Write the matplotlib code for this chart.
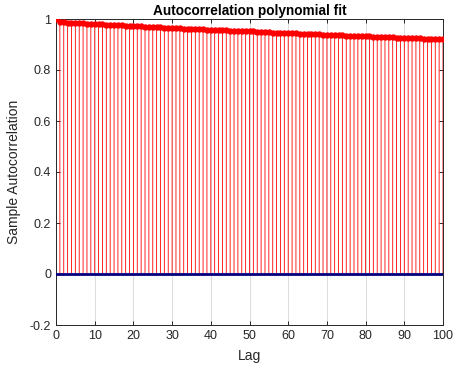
import matplotlib
matplotlib.use("Agg")
import matplotlib.pyplot as plt
import numpy as np

lags = list(range(0, 101))
acf = [1.000,
       0.988, 0.987, 0.986, 0.986, 0.985, 0.984, 0.983, 0.982, 0.982, 0.981,
       0.980, 0.979, 0.978, 0.977, 0.977, 0.976, 0.975, 0.974, 0.973, 0.973,
       0.972, 0.971, 0.970, 0.969, 0.968, 0.968, 0.967, 0.966, 0.965, 0.964,
       0.964, 0.963, 0.962, 0.961, 0.961, 0.960, 0.959, 0.959, 0.958, 0.958,
       0.957, 0.956, 0.956, 0.955, 0.954, 0.954, 0.953, 0.953, 0.952, 0.951,
       0.951, 0.950, 0.949, 0.949, 0.948, 0.947, 0.947, 0.946, 0.946, 0.945,
       0.944, 0.944, 0.943, 0.942, 0.942, 0.941, 0.940, 0.940, 0.939, 0.939,
       0.938, 0.937, 0.937, 0.936, 0.935, 0.935, 0.934, 0.934, 0.933, 0.932,
       0.932, 0.931, 0.930, 0.930, 0.929, 0.929, 0.928, 0.927, 0.927, 0.926,
       0.925, 0.925, 0.924, 0.924, 0.923, 0.922, 0.922, 0.921, 0.920, 0.920]
xticks = [0, 10, 20, 30, 40, 50, 60, 70, 80, 90, 100]
yticks = [-0.2, 0, 0.2, 0.4, 0.6, 0.8, 1]
ytick_labels = ["-0.2", "0", "0.2", "0.4", "0.6", "0.8", "1"]
title = "Autocorrelation polynomial fit"
xlabel = "Lag"
ylabel = "Sample Autocorrelation"

plt.rcParams['font.family'] = ['Liberation Sans', 'DejaVu Sans']

fig = plt.figure(figsize=(4.55, 3.69), dpi=100)
ax = fig.add_axes([56/455, 44/369, 387/455, 306/369])

ax.set_xlim(0, 100)
ax.set_ylim(-0.2, 1)
ax.set_xticks(xticks)
ax.set_yticks(yticks)
ax.set_yticklabels(ytick_labels)

ax.xaxis.grid(True, color='#dcdcdc', linewidth=0.7, zorder=0)
ax.set_axisbelow(True)

stems = ax.vlines(lags, 0, acf, colors='red', linewidth=0.6, zorder=2)
stems.set_snap(False)
ax.plot(lags, acf, 'o', color='red', markersize=4.6, markeredgewidth=0, zorder=3)
ax.axhline(0, color='#00007f', linewidth=2, zorder=4)

ax.tick_params(direction='in', top=True, right=True, length=3,
               labelsize=9, colors='#262626', width=0.7)
for sp in ax.spines.values():
    sp.set_color('#262626')
    sp.set_linewidth(0.7)

ax.set_title(title, fontsize=9.8, fontweight='bold', color='black', pad=3)
ax.set_xlabel(xlabel, fontsize=10, color='#262626', labelpad=5)
ax.set_ylabel(ylabel, fontsize=10, color='#262626', labelpad=6)

fig.savefig("out.png", dpi=100)
